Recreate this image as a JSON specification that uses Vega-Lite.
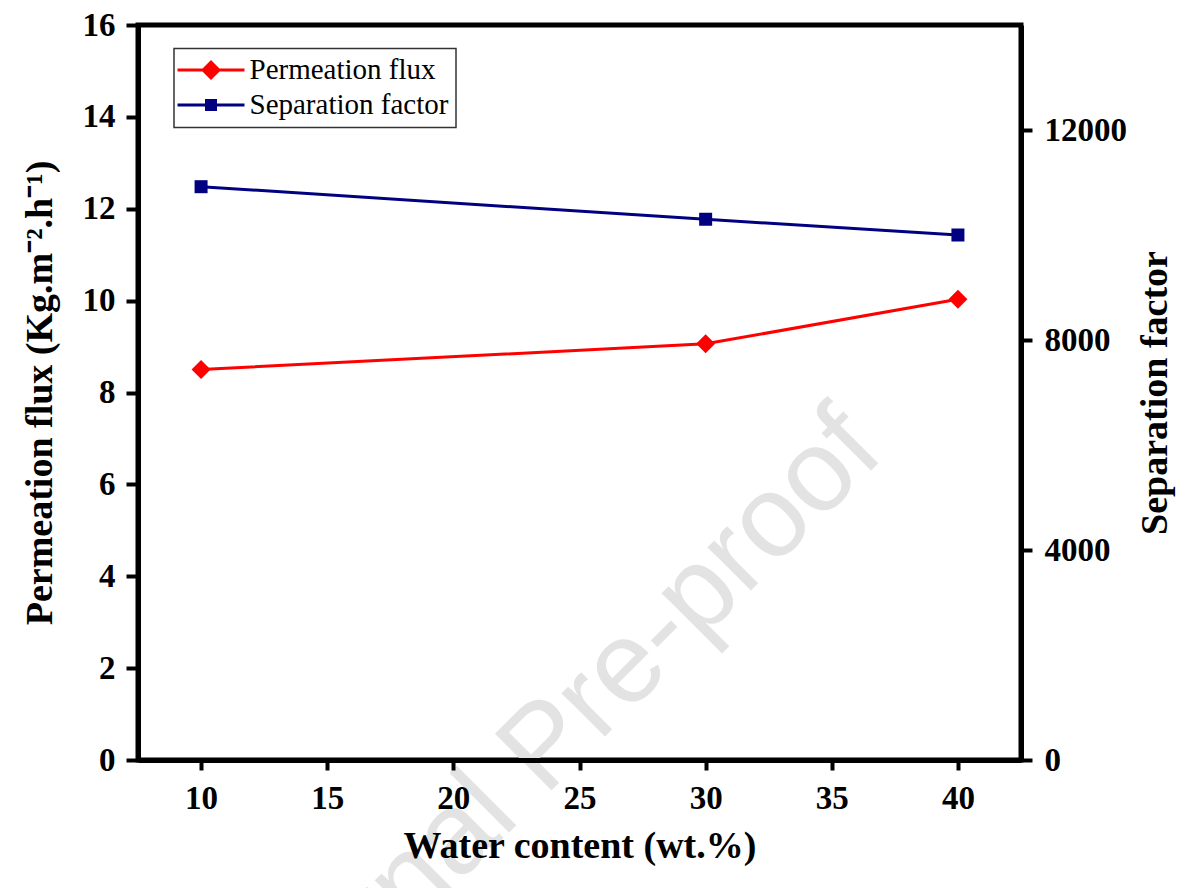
{
  "$schema": "https://vega.github.io/schema/vega-lite/v6.json",
  "width": 883,
  "height": 735,
  "autosize": "none",
  "padding": {"left": 138, "top": 25, "right": 171, "bottom": 128},
  "background": "white",
  "data": {"values": [
    {"wc": 10, "series": "Permeation flux", "value": 8.50},
    {"wc": 30, "series": "Permeation flux", "value": 9.06},
    {"wc": 40, "series": "Permeation flux", "value": 10.03},
    {"wc": 10, "series": "Separation factor", "value": 10920},
    {"wc": 30, "series": "Separation factor", "value": 10300},
    {"wc": 40, "series": "Separation factor", "value": 10000}
  ]},
  "layer": [
    {
      "data": {"values": [{"label": "Journal Pre-proof"}]},
      "mark": {"type": "text", "font": "Liberation Sans", "fontSize": 116, "angle": -45, "color": "#e3e3e3", "align": "center", "baseline": "middle"},
      "encoding": {
        "x": {"datum": 23.63, "type": "quantitative", "scale": {"domain": [7.5, 42.5]}},
        "y": {"datum": 0.28, "type": "quantitative", "scale": {"domain": [0, 16]}, "axis": null},
        "text": {"field": "label", "type": "nominal"}
      }
    },
    {
      "transform": [{"filter": "datum.series === 'Permeation flux'"}],
      "encoding": {
        "x": {"field": "wc", "type": "quantitative", "scale": {"domain": [7.5, 42.5], "nice": false, "zero": false},
          "axis": {"title": "Water content (wt.%)", "values": [10, 15, 20, 25, 30, 35, 40], "tickSize": 10, "labelPadding": 12, "titlePadding": 12, "labelFlush": false, "labelOverlap": false, "zindex": 2}},
        "y": {"field": "value", "type": "quantitative", "scale": {"domain": [0, 16], "nice": false},
          "axis": {"orient": "left", "title": "Permeation flux (Kg.m⁻².h⁻¹)", "values": [0, 2, 4, 6, 8, 10, 12, 14, 16], "tickSize": 12, "labelPadding": 11, "titlePadding": 23, "labelFlush": false, "labelOverlap": false, "zindex": 2}}
      },
      "layer": [
        {"mark": {"type": "line", "color": "#ff0000", "strokeWidth": 3}},
        {"mark": {"type": "point", "shape": "diamond", "filled": true, "size": 361, "color": "#ff0000", "opacity": 1}},
        {
          "transform": [{"filter": "false"}],
          "mark": {"type": "point", "filled": true, "opacity": 1},
          "encoding": {
            "color": {"field": "series", "type": "nominal",
              "scale": {"domain": ["Permeation flux", "Separation factor"], "range": ["#ff0000", "#000080"]},
              "legend": {"orient": "none", "legendX": 36, "legendY": 23.5, "title": null}},
            "shape": {"field": "series", "type": "nominal",
              "scale": {"domain": ["Permeation flux", "Separation factor"], "range": [
                "M-3.35,-0.15H3.35V0.15H-3.35ZM0,-1L1,0L0,1L-1,0Z",
                "M-3.35,-0.15H3.35V0.15H-3.35ZM-0.6,-0.6H0.6V0.6H-0.6Z"]},
              "legend": {"orient": "none", "legendX": 36, "legendY": 23.5, "title": null}}
          }
        }
      ]
    },
    {
      "transform": [{"filter": "datum.series === 'Separation factor'"}],
      "encoding": {
        "x": {"field": "wc", "type": "quantitative", "scale": {"domain": [7.5, 42.5], "nice": false, "zero": false}},
        "y": {"field": "value", "type": "quantitative", "scale": {"domain": [0, 14000], "nice": false},
          "axis": {"orient": "right", "title": "Separation factor", "values": [0, 4000, 8000, 12000], "format": "d", "tickSize": 11, "labelPadding": 12, "titleAngle": -90, "titleBaseline": "top", "titlePadding": 10, "labelFlush": false, "labelOverlap": false, "zindex": 2}}
      },
      "layer": [
        {"mark": {"type": "line", "color": "#000080", "strokeWidth": 3}},
        {"mark": {"type": "point", "shape": "square", "filled": true, "size": 169, "color": "#000080", "opacity": 1}}
      ]
    }
  ],
  "resolve": {"scale": {"y": "independent"}},
  "config": {
    "view": {"stroke": "black", "strokeWidth": 5},
    "axis": {
      "labelFont": "Liberation Serif", "labelFontWeight": "bold", "labelFontSize": 33, "labelColor": "black",
      "titleFont": "Liberation Serif", "titleFontWeight": "bold", "titleFontSize": 38, "titleColor": "black",
      "domainColor": "black", "domainWidth": 5, "tickColor": "black", "tickWidth": 4, "grid": false, "zindex": 2
    },
    "legend": {
      "labelFont": "Liberation Serif", "labelFontSize": 29, "labelColor": "black", "labelLimit": 400,
      "symbolSize": 400, "symbolStrokeWidth": 0, "symbolOffset": 15.5, "labelOffset": 24, "symbolOpacity": 1,
      "padding": 7, "rowPadding": 5, "strokeColor": "#333333", "strokeWidth": 1.5, "fillColor": "white"
    }
  }
}
